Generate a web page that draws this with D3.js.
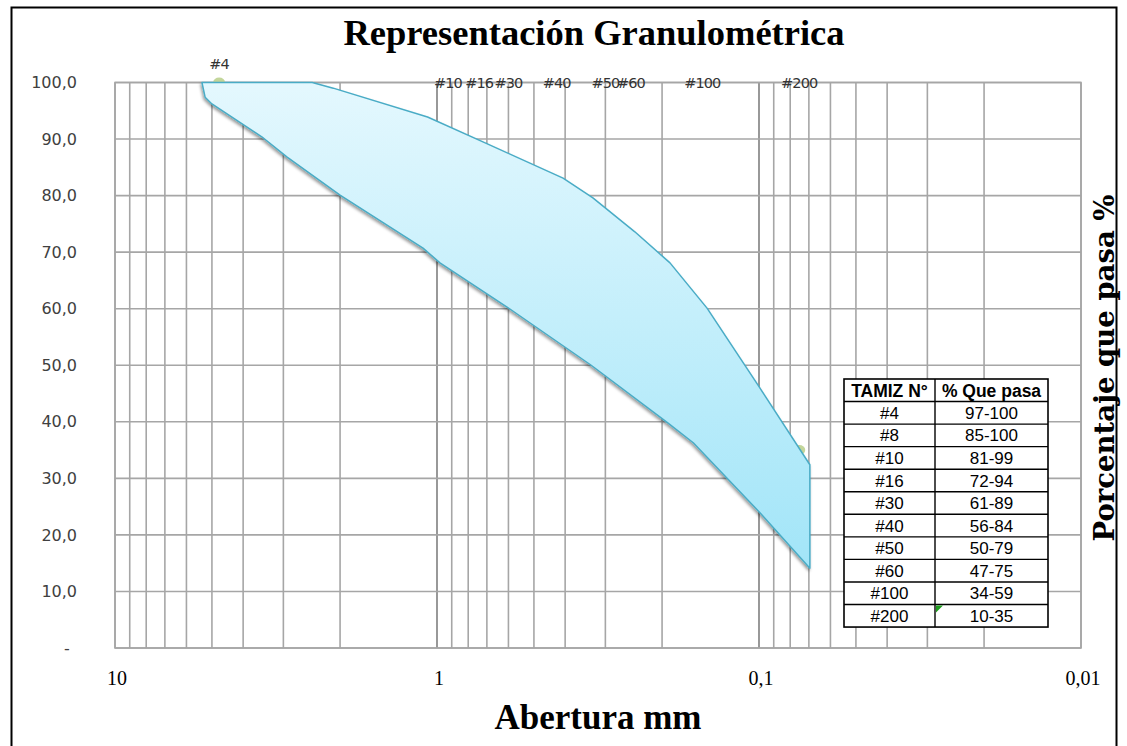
<!DOCTYPE html>
<html>
<head>
<meta charset="utf-8">
<script src="https://cdn.jsdelivr.net/npm/d3@7"></script>
<style>
  body { margin: 0; background: #fff; }
  svg { display: block; }
</style>
</head>
<body>
<svg id="chart" width="1127" height="746"></svg>
<script>
// Values

// sieve labels along the top (label, opening in mm as plotted)
const labelNames = ["#4", "#10", "#16", "#30", "#40", "#50", "#60", "#100", "#200"];
const labelSizes = [4.75, 0.925, 0.74, 0.6, 0.425, 0.3, 0.25, 0.15, 0.075];

// upper edge of the band (mm, % passing)
const upperSize = [5.37, 2.44, 2.10, 1.07, 0.72, 0.406, 0.328, 0.243, 0.189, 0.145, 0.1007, 0.0695];
const upperPct  = [100, 100, 99.0, 93.9, 89.5, 83.1, 79.6, 73.6, 68.1, 60.1, 46.5, 32.4];

// lower edge of the band (mm, % passing)
const lowerSize = [5.37, 5.25, 5.0, 3.50, 2.92, 2.00, 1.105, 0.979, 0.606, 0.332, 0.192, 0.160, 0.0993, 0.0695];
const lowerPct  = [100, 97.4, 96.2, 90.4, 86.8, 80.1, 70.7, 68.1, 60.3, 50.0, 39.8, 36.3, 23.9, 14.1];

// the two markers that show outside the band
const markerSize = [4.75, 0.075];
const markerPct  = [100, 35];

// table
const tamiz = ["#4", "#8", "#10", "#16", "#30", "#40", "#50", "#60", "#100", "#200"];
const pasa  = ["97-100", "85-100", "81-99", "72-94", "61-89", "56-84", "50-79", "47-75", "34-59", "10-35"];

const xTicks = [10, 1, 0.1, 0.01];
const yTicks = [0, 10, 20, 30, 40, 50, 60, 70, 80, 90, 100];

const svg = d3.select("#chart");

// frame around the whole chart
svg.append("rect")
  .attr("x", 11.5).attr("y", 7.5)
  .attr("width", 1105).attr("height", 745)
  .attr("fill", "none").attr("stroke", "#000").attr("stroke-width", 2);

const plotL = 115, plotR = 1081, plotT = 82.5, plotB = 648;

const x = d3.scaleLog().domain([10, 0.01]).range([plotL, plotR]);
const y = d3.scaleLinear().domain([0, 100]).range([plotB, plotT]);

const locale = d3.formatLocale({ decimal: ",", thousands: ".", grouping: [3], currency: ["", ""] });
const fmtY = locale.format(".1f");
const fmtX = v => String(v).replace(".", ",");

// grid
const grid = svg.append("g");
const minor = [];
for (let e = -2; e < 1; e++) {
  for (let k = 1; k <= 9; k++) minor.push(+(k * Math.pow(10, e)).toPrecision(3));
}
minor.push(10);

grid.selectAll("line.v").data(minor).join("line")
  .attr("class", "v")
  .attr("x1", d => x(d)).attr("x2", d => x(d))
  .attr("y1", plotT).attr("y2", plotB)
  .attr("stroke", d => d === 1 || d === 0.1 ? "#7f7f7f" : "#a6a6a6")
  .attr("stroke-width", 1.6);

grid.selectAll("line.h").data(yTicks).join("line")
  .attr("class", "h")
  .attr("x1", plotL).attr("x2", plotR)
  .attr("y1", d => y(d)).attr("y2", d => y(d))
  .attr("stroke", "#a6a6a6")
  .attr("stroke-width", 1.6);

grid.append("rect")
  .attr("x", plotL).attr("y", plotT)
  .attr("width", plotR - plotL).attr("height", plotB - plotT)
  .attr("fill", "none").attr("stroke", "#a6a6a6").attr("stroke-width", 1.6);

// y tick labels
svg.append("g").selectAll("text").data(yTicks).join("text")
  .attr("x", 77).attr("y", d => y(d))
  .attr("dy", "0.35em")
  .attr("text-anchor", d => d === 0 ? "middle" : "end")
  .attr("dx", d => d === 0 ? -10 : 0)
  .attr("font-family", "DejaVu Sans, sans-serif")
  .attr("font-size", 16)
  .attr("fill", "#404040")
  .text(d => d === 0 ? "-" : fmtY(d));

// x tick labels
svg.append("g").selectAll("text").data(xTicks).join("text")
  .attr("x", d => x(d) + 2).attr("y", 685)
  .attr("text-anchor", "middle")
  .attr("font-family", "Liberation Serif, serif")
  .attr("font-size", 20)
  .attr("fill", "#000")
  .text(fmtX);

// markers (drawn under the band)
svg.append("g").selectAll("ellipse").data(markerSize).join("ellipse")
  .attr("cx", d => x(d)).attr("cy", (d, i) => y(markerPct[i]))
  .attr("rx", 6).attr("ry", 5)
  .attr("fill", "#c3d69b");

// band
const defs = svg.append("defs");
const grad = defs.append("linearGradient")
  .attr("id", "bandFill").attr("gradientUnits", "userSpaceOnUse")
  .attr("x1", 0).attr("y1", plotT).attr("x2", 0).attr("y2", y(14));
grad.append("stop").attr("offset", "0%").attr("stop-color", "#e4f8fe");
grad.append("stop").attr("offset", "100%").attr("stop-color", "#a2e5f8");

const shadow = defs.append("filter").attr("id", "shadow")
  .attr("x", "-10%").attr("y", "-10%").attr("width", "120%").attr("height", "120%");
shadow.append("feDropShadow")
  .attr("dx", -1).attr("dy", 2).attr("stdDeviation", 1.8)
  .attr("flood-color", "#000").attr("flood-opacity", 0.4);

const bandPts = upperSize.map((s, i) => [s, upperPct[i]])
  .concat(lowerSize.map((s, i) => [s, lowerPct[i]]).reverse());

const line = d3.line().x(d => x(d[0])).y(d => y(d[1]));

svg.append("path")
  .attr("d", line(bandPts) + "Z")
  .attr("fill", "url(#bandFill)")
  .attr("stroke", "#4aacc6")
  .attr("stroke-width", 1.5)
  .attr("stroke-linejoin", "round")
  .attr("filter", "url(#shadow)");

// sieve labels along the top
svg.append("g").selectAll("text").data(labelNames).join("text")
  .attr("x", (d, i) => x(labelSizes[i]))
  .attr("y", (d, i) => i === 0 ? y(100) - 19 : y(100))
  .attr("dy", "0.35em")
  .attr("text-anchor", "middle")
  .attr("font-family", "DejaVu Sans, sans-serif")
  .attr("font-size", 14.5)
  .attr("letter-spacing", -0.9)
  .attr("fill", "#333")
  .text(d => d);

// titles
svg.append("text")
  .attr("x", 594).attr("y", 45)
  .attr("text-anchor", "middle")
  .attr("font-family", "Liberation Serif, serif")
  .attr("font-weight", "bold")
  .attr("font-size", 36.5)
  .text("Representación Granulométrica");

svg.append("text")
  .attr("x", 598).attr("y", 729)
  .attr("text-anchor", "middle")
  .attr("font-family", "Liberation Serif, serif")
  .attr("font-weight", "bold")
  .attr("font-size", 35)
  .text("Abertura mm");

svg.append("text")
  .attr("transform", "translate(1114,368) rotate(-90)")
  .attr("text-anchor", "middle")
  .attr("font-family", "DejaVu Serif, serif")
  .attr("font-weight", "bold")
  .attr("font-size", 27.5)
  .text("Porcentaje que pasa %");

// table
const tx = 844, tcol = 935, tr = 1048, ty = 379, rowH = 22.55;
const table = svg.append("g");
const nRows = tamiz.length + 1;
table.append("rect")
  .attr("x", tx).attr("y", ty)
  .attr("width", tr - tx).attr("height", rowH * nRows)
  .attr("fill", "#fff").attr("stroke", "#000").attr("stroke-width", 1.6);
table.selectAll("line.r").data(d3.range(1, nRows)).join("line")
  .attr("class", "r")
  .attr("x1", tx).attr("x2", tr)
  .attr("y1", d => ty + d * rowH).attr("y2", d => ty + d * rowH)
  .attr("stroke", "#000").attr("stroke-width", 1.4);
table.append("line")
  .attr("x1", tcol).attr("x2", tcol)
  .attr("y1", ty).attr("y2", ty + rowH * nRows)
  .attr("stroke", "#000").attr("stroke-width", 1.4);

const headers = ["TAMIZ N°", "% Que pasa"];
table.selectAll("text.hd").data(headers).join("text")
  .attr("class", "hd")
  .attr("x", (d, i) => i === 0 ? (tx + tcol) / 2 : (tcol + tr) / 2)
  .attr("y", ty + rowH / 2)
  .attr("dy", "0.36em")
  .attr("text-anchor", "middle")
  .attr("font-family", "Liberation Sans, Arial, sans-serif")
  .attr("font-weight", "bold")
  .attr("font-size", 17.5)
  .text(d => d);

table.selectAll("text.c1").data(tamiz).join("text")
  .attr("class", "c1")
  .attr("x", (tx + tcol) / 2)
  .attr("y", (d, i) => ty + (i + 1.5) * rowH)
  .attr("dy", "0.36em")
  .attr("text-anchor", "middle")
  .attr("font-family", "Liberation Sans, Arial, sans-serif")
  .attr("font-size", 17)
  .text(d => d);

table.selectAll("text.c2").data(pasa).join("text")
  .attr("class", "c2")
  .attr("x", (tcol + tr) / 2)
  .attr("y", (d, i) => ty + (i + 1.5) * rowH)
  .attr("dy", "0.36em")
  .attr("text-anchor", "middle")
  .attr("font-family", "Liberation Sans, Arial, sans-serif")
  .attr("font-size", 17)
  .text(d => d);

// little green corner mark in the last cell
const cy0 = ty + tamiz.length * rowH + 1;
table.append("path")
  .attr("d", `M${tcol + 1},${cy0} h7 L${tcol + 1},${cy0 + 7} Z`)
  .attr("fill", "#1e9e1e");
</script>
</body>
</html>
